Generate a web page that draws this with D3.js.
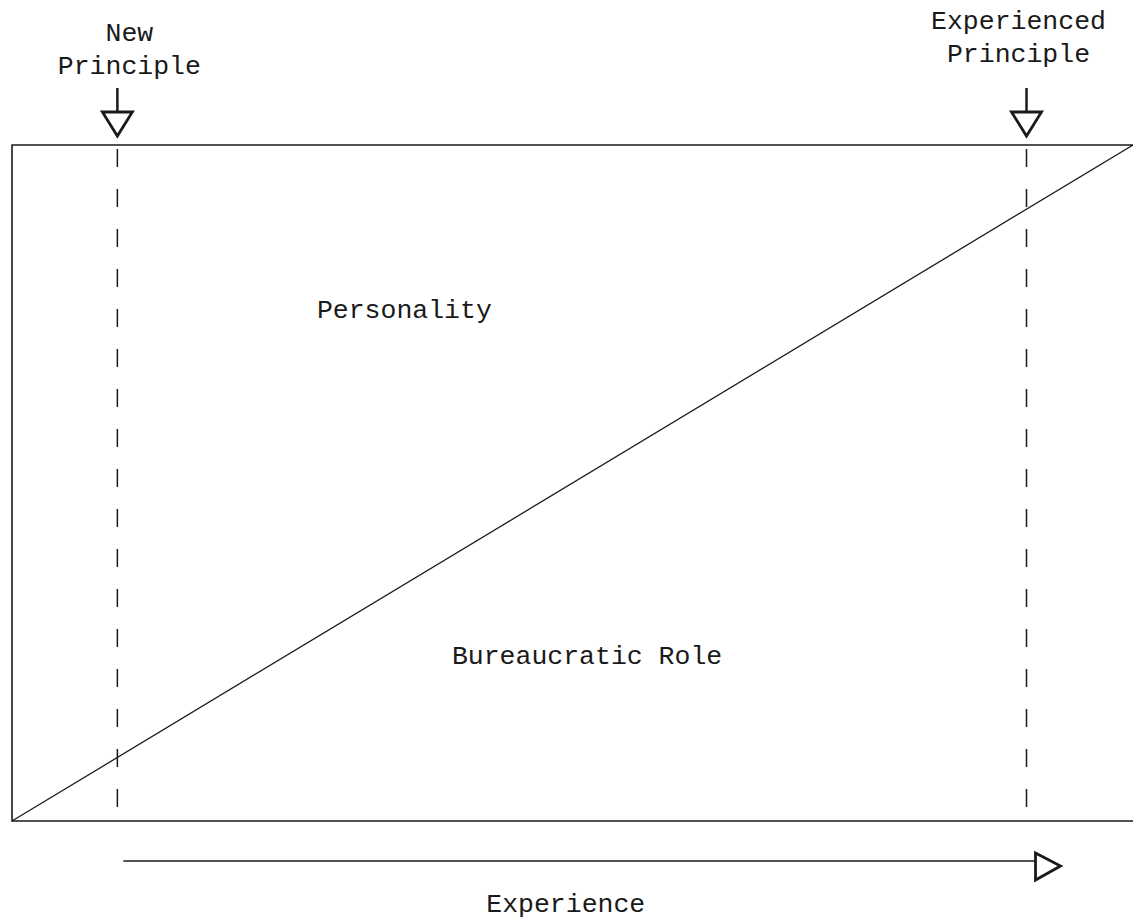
<!DOCTYPE html>
<html>
<head>
<meta charset="utf-8">
<script src="https://cdn.jsdelivr.net/npm/d3@7"></script>
<style>
  html, body { margin: 0; padding: 0; background: #fff; }
  .label { font-family: "Liberation Mono", "DejaVu Sans Mono", monospace; font-size: 26.5px; fill: #1a1a1a; }
</style>
</head>
<body>
<div id="chart"></div>
<script>
// Data: experience runs 0 -> 1 along x, share of bureaucratic role 0 -> 1 up y
var stageNames = [["New", "Principle"], ["Experienced", "Principle"]];
var stageExperience = [0.094, 0.905];
var boundaryExperience = [0, 1];
var boundaryRoleShare = [0, 1];
var regionNames = ["Personality", "Bureaucratic Role"];
var axisName = "Experience";

var svgWidth = 1133;
var svgHeight = 919;

var margin = { top: 145, bottom: 98, left: 12, right: 0 };
var width = svgWidth - margin.left - margin.right;    // 1121
var height = svgHeight - margin.top - margin.bottom;  // 676

var svg = d3.select("#chart")
  .append("svg")
  .attr("width", svgWidth)
  .attr("height", svgHeight);

var chartGroup = svg.append("g")
  .attr("transform", `translate(${margin.left}, ${margin.top})`);

var xScale = d3.scaleLinear().domain([0, 1]).range([0, width]);
var yScale = d3.scaleLinear().domain([0, 1]).range([height, 0]);

var ink = "#1a1a1a";

// frame: top, left and bottom lines (no right side)
chartGroup.append("path")
  .attr("d", `M${xScale(1)},${yScale(1)} L${xScale(0)},${yScale(1)} L${xScale(0)},${yScale(0)} L${xScale(1)},${yScale(0)}`)
  .attr("fill", "none")
  .attr("stroke", ink)
  .attr("stroke-width", 1.6);

// diagonal split between personality and role
var boundary = boundaryExperience.map((e, i) => [e, boundaryRoleShare[i]]);
chartGroup.append("path")
  .datum(boundary)
  .attr("d", d3.line().x(d => xScale(d[0])).y(d => yScale(d[1])))
  .attr("fill", "none")
  .attr("stroke", ink)
  .attr("stroke-width", 1.3);

// dashed stage markers
chartGroup.selectAll(null)
  .data(stageExperience)
  .enter()
  .append("line")
  .attr("x1", d => xScale(d))
  .attr("x2", d => xScale(d))
  .attr("y1", yScale(1))
  .attr("y2", yScale(0))
  .attr("stroke", ink)
  .attr("stroke-width", 1.5)
  .attr("stroke-dasharray", "18,22")
  .attr("stroke-dashoffset", -4);

// down arrows above each stage
var arrows = chartGroup.selectAll(null)
  .data(stageExperience)
  .enter()
  .append("g")
  .attr("transform", d => `translate(${xScale(d)}, 0)`);

arrows.append("line")
  .attr("x1", 0).attr("x2", 0)
  .attr("y1", -57).attr("y2", -33)
  .attr("stroke", ink)
  .attr("stroke-width", 2.5);

arrows.append("path")
  .attr("d", "M-15,-33 L15,-33 L0,-9 Z")
  .attr("fill", "#fff")
  .attr("stroke", ink)
  .attr("stroke-width", 2.8)
  .attr("stroke-linejoin", "miter");

// stage labels
var stageText = chartGroup.selectAll(null)
  .data(stageNames)
  .enter()
  .append("text")
  .attr("class", "label")
  .attr("text-anchor", "middle")
  .attr("x", (d, i) => xScale(stageExperience[i]) + (i === 0 ? 12 : -8))
  .attr("y", (d, i) => i === 0 ? -104 : -116);

stageText.selectAll("tspan")
  .data(d => d)
  .enter()
  .append("tspan")
  .attr("x", function () { return this.parentNode.getAttribute("x"); })
  .attr("dy", (d, j) => j === 0 ? 0 : 33)
  .text(d => d);

// region labels
chartGroup.append("text")
  .attr("class", "label")
  .attr("text-anchor", "middle")
  .attr("x", xScale(0.35))
  .attr("y", yScale(0.75) + 4)
  .text(regionNames[0]);

chartGroup.append("text")
  .attr("class", "label")
  .attr("text-anchor", "middle")
  .attr("x", xScale(0.513))
  .attr("y", yScale(0.232))
  .text(regionNames[1]);

// experience arrow under the frame
var arrowY = height + 40;
chartGroup.append("line")
  .attr("x1", xScale(stageExperience[0]) + 6)
  .attr("x2", xScale(stageExperience[1]) + 8)
  .attr("y1", arrowY)
  .attr("y2", arrowY)
  .attr("stroke", ink)
  .attr("stroke-width", 1.6);

chartGroup.append("path")
  .attr("d", `M${xScale(stageExperience[1]) + 9},${arrowY - 8} L${xScale(stageExperience[1]) + 34},${arrowY + 5} L${xScale(stageExperience[1]) + 9},${arrowY + 19} Z`)
  .attr("fill", "#fff")
  .attr("stroke", ink)
  .attr("stroke-width", 2.8);

chartGroup.append("text")
  .attr("class", "label")
  .attr("text-anchor", "middle")
  .attr("x", xScale(0.494))
  .attr("y", height + 91)
  .text(axisName);
</script>
</body>
</html>
